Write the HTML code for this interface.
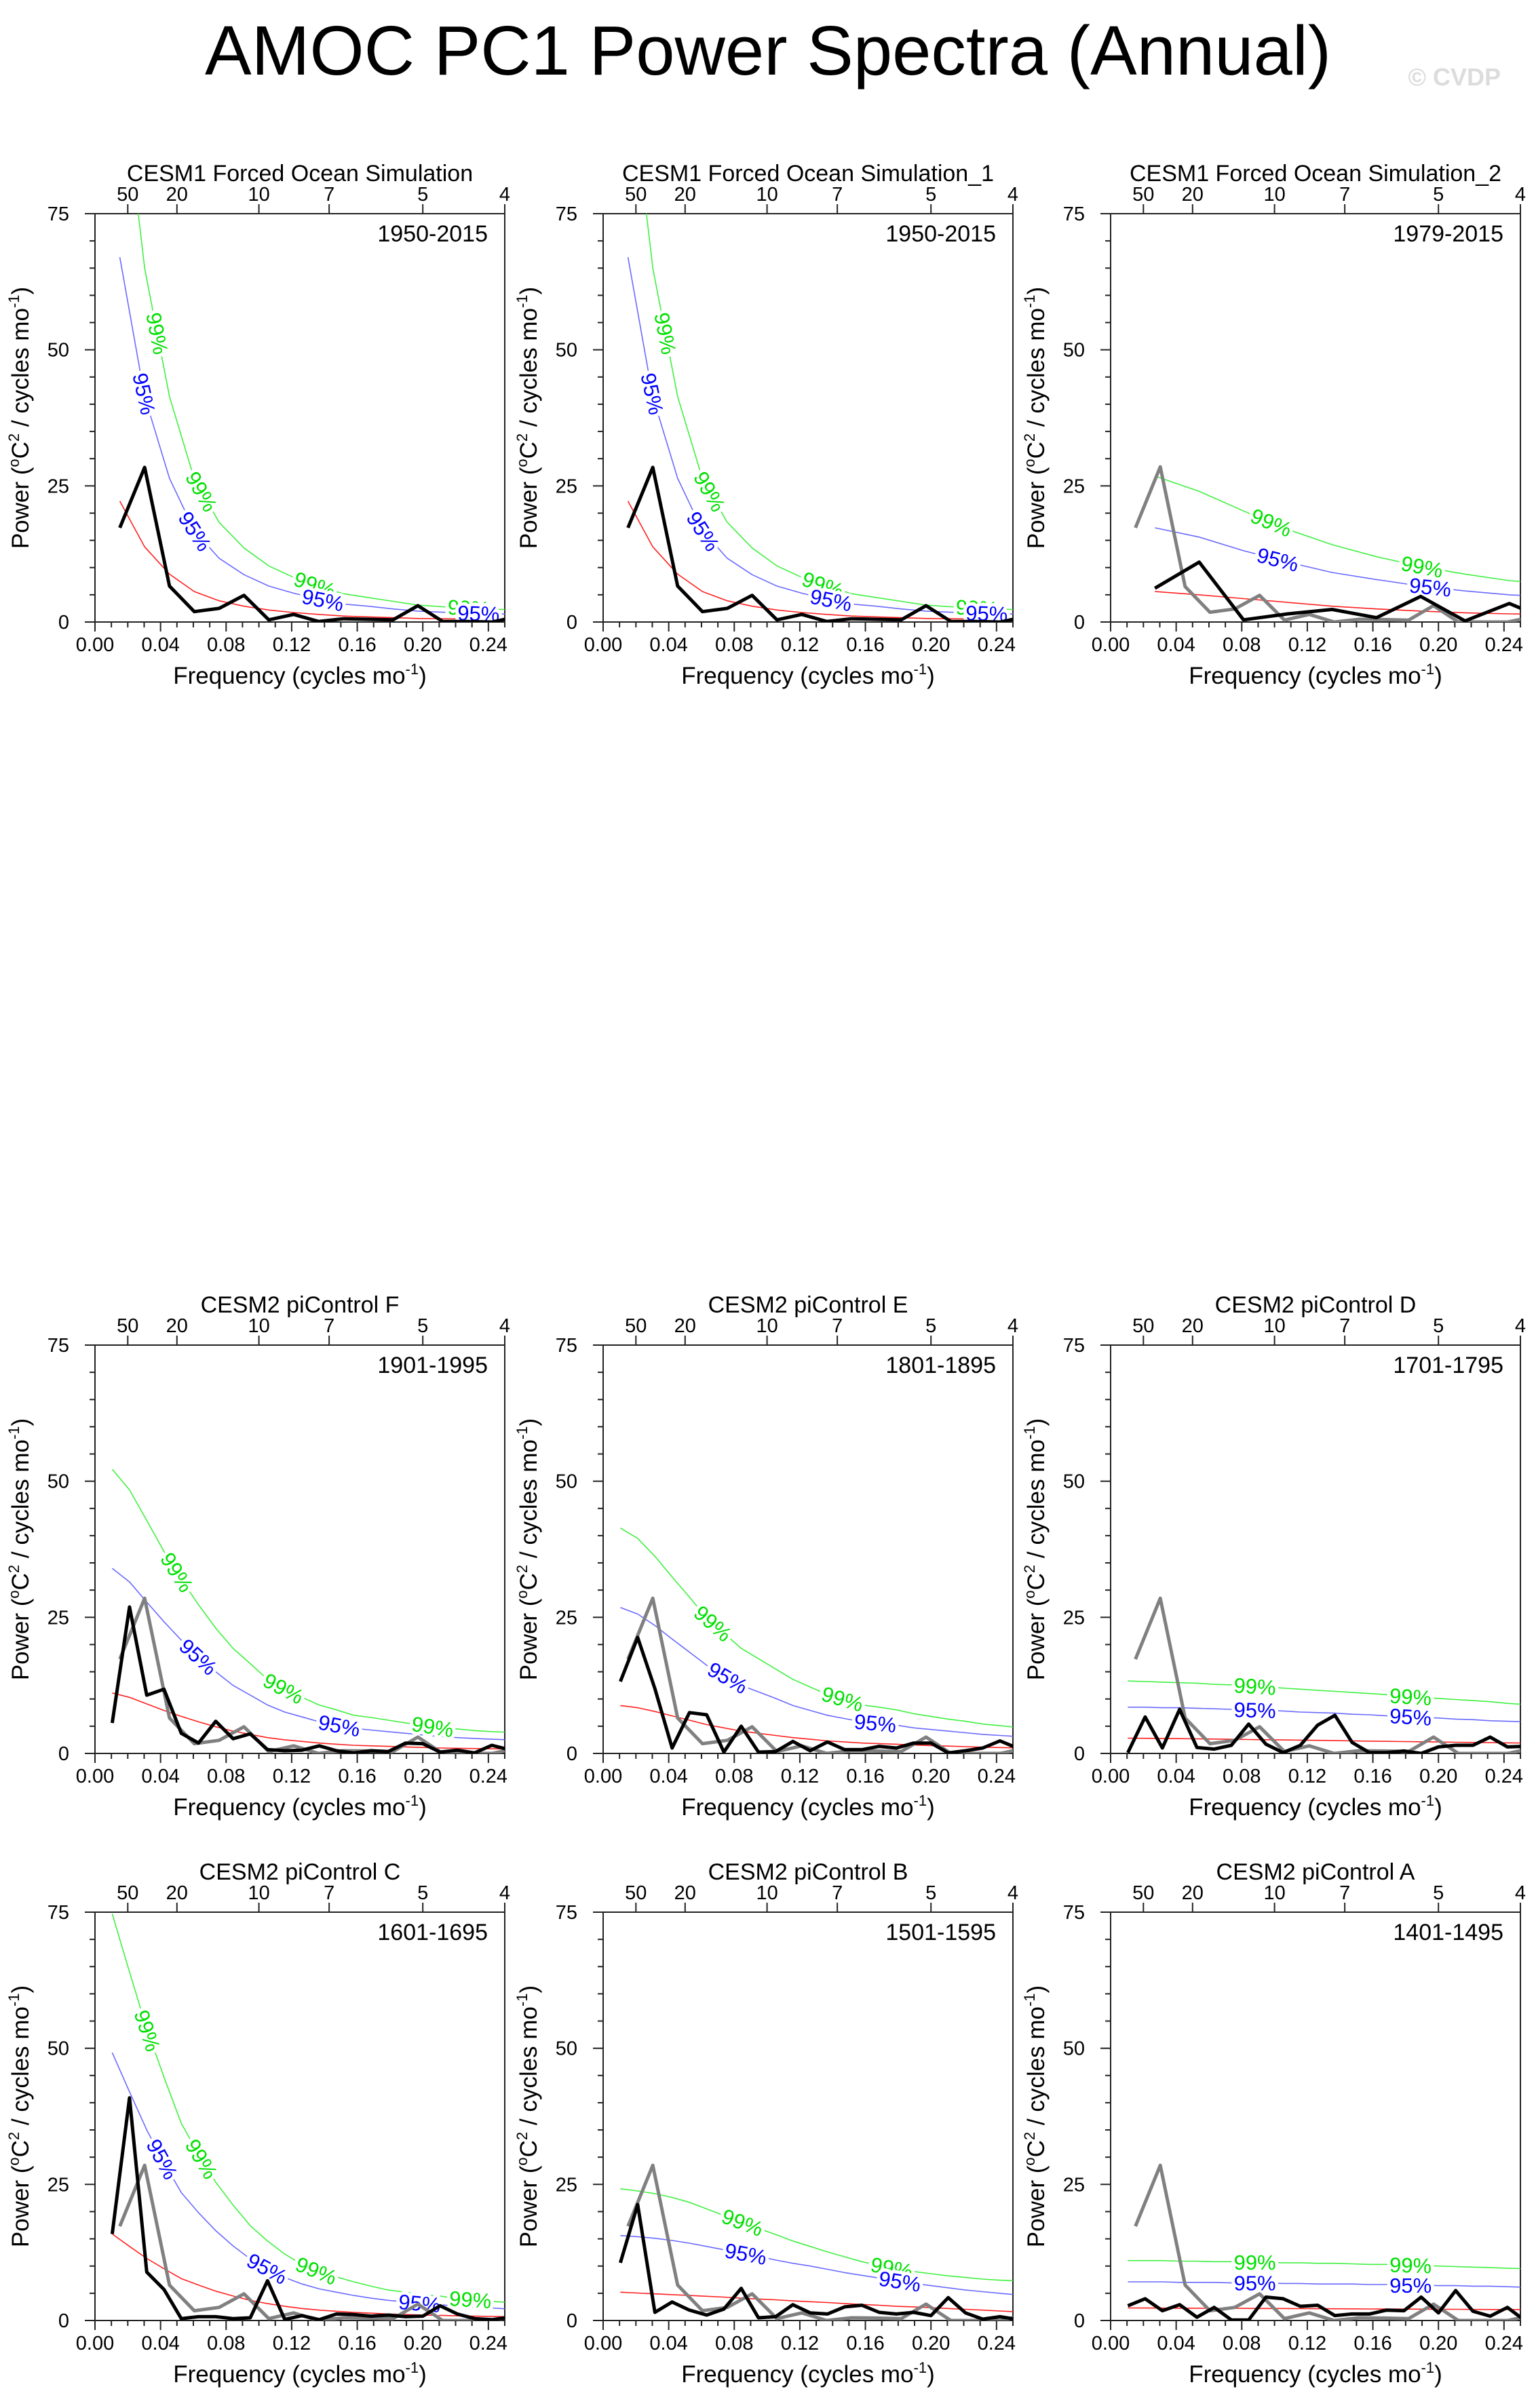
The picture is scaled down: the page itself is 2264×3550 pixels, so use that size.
<!DOCTYPE html>
<html><head><meta charset="utf-8"><title>AMOC PC1 Power Spectra (Annual)</title>
<style>
html,body{margin:0;padding:0;background:#fff;}
svg{display:block;font-family:"Liberation Sans",Arial,sans-serif;}
</style></head>
<body>
<svg id="chart" xmlns="http://www.w3.org/2000/svg" width="2264" height="3550" viewBox="0 0 2264 3550">
<rect width="2264" height="3550" fill="#fff"/>
<text x="1132" y="110" font-size="103" text-anchor="middle" fill="#000">AMOC PC1 Power Spectra (Annual)</text>
<text x="2212" y="126" font-size="36" font-weight="bold" text-anchor="end" fill="#dcdcdc">© CVDP</text>
<g id="panels"></g>
</svg>
<script>
// ---- data ----
const grayStep = 1/66;
const grayRef = [17.3,28.5,6.5,1.8,2.4,4.9,0.35,1.4,0,0.5,0.45,0.35,3.0,0,0,0,1.0];

const p1Black = [17.3,28.4,6.6,1.9,2.5,4.9,0.4,1.4,0.1,0.6,0.5,0.4,3.0,0.1,0.1,0,1.0];
const p1Red   = [22.2,13.8,8.8,5.6,3.9,2.9,2.2,1.75,1.4,1.1,0.95,0.8,0.65,0.6,0.55,0.5,0.48];
const p1S95   = [67,41.4,26.4,16.8,11.7,8.7,6.6,5.3,4.2,3.3,2.9,2.4,2.0,1.8,1.65,1.5,1.45];
const p1S99   = [104,65,41.4,26.3,18.3,13.6,10.3,8.2,6.6,5.2,4.5,3.8,3.1,2.8,2.6,2.35,2.25];

const p3Black = [6.2,11,0.4,1.5,2.3,0.8,4.7,0.2,3.4,0];
const p3Red   = [5.6,5.0,4.3,3.6,2.9,2.4,2.0,1.7,1.5,1.4];
const p3S95   = [17.3,15.6,13.1,11,9.1,7.8,6.6,5.7,5.0,4.6];
const p3S99   = [26.8,24,20.4,17,14.2,12,10.2,8.8,7.6,7.0];

const pFBlack = [5.6,26.9,10.7,11.8,3.7,1.9,5.9,2.7,3.6,0.7,0.5,0.6,1.4,0.5,0.1,0.5,0.35,1.9,1.8,0.25,0.6,0.1,1.5,0.7];
const pFRed   = [11.1,10.3,9.1,7.9,6.8,5.8,4.9,4.1,3.5,2.9,2.5,2.2,1.9,1.7,1.5,1.4,1.3,1.2,1.1,1.0,0.95,0.9,0.85,0.82];
const pFS95   = [34,31.5,27.8,24.2,20.8,17.7,15,12.5,10.7,8.9,7.6,6.7,5.8,5.2,4.6,4.3,4.0,3.7,3.4,3.1,2.9,2.75,2.6,2.5];
const pFS99   = [52.2,48.4,42.8,37.1,32,27.3,23,19.3,16.5,13.6,11.8,10.3,8.9,8,7,6.6,6.1,5.6,5.2,4.7,4.5,4.2,4.0,3.9];

const pEBlack = [13.2,21.3,11.9,1.0,7.5,7.1,0.25,5.0,0.25,0.35,2.2,0.5,2.1,0.7,0.7,1.3,1.0,1.9,1.9,0.1,0.5,1.0,2.3,1.0];
const pERed   = [8.8,8.4,7.7,6.9,6.1,5.3,4.7,4.1,3.7,3.3,2.9,2.6,2.3,2.1,1.9,1.8,1.7,1.55,1.45,1.35,1.25,1.15,1.08,1.02];
const pES95   = [26.8,25.6,23.5,21,18.6,16.2,14.3,12.5,11.3,10.1,8.8,7.9,7.0,6.4,5.8,5.5,5.2,4.7,4.4,4.1,3.8,3.5,3.3,3.1];
const pES99   = [41.4,39.5,36.2,32.4,28.7,24.9,22.1,19.3,17.4,15.5,13.6,12.2,10.8,9.9,8.9,8.5,8.0,7.3,6.8,6.3,5.9,5.4,5.1,4.8];

const pDBlack = [0.15,6.7,1.0,8.1,1.1,0.8,1.5,5.4,1.7,0.15,1.5,5.2,7.0,2.0,0.15,0.15,0.45,0,1.2,1.5,1.5,3.0,1.2,1.3];
const pDRed   = [2.8,2.78,2.75,2.72,2.68,2.64,2.6,2.56,2.52,2.48,2.44,2.4,2.35,2.3,2.26,2.22,2.18,2.14,2.1,2.06,2.02,1.98,1.94,1.9];
const pDS95   = [8.5,8.5,8.4,8.4,8.3,8.2,8.1,8.0,7.9,7.8,7.6,7.5,7.4,7.2,7.1,6.9,6.8,6.6,6.5,6.3,6.2,6.0,5.9,5.8];
const pDS99   = [13.3,13.2,13.1,13.0,12.9,12.7,12.6,12.4,12.2,12.0,11.8,11.6,11.4,11.2,11.0,10.8,10.5,10.3,10.1,9.9,9.7,9.5,9.2,9.0];

const pCBlack = [15.9,40.9,8.9,5.7,0.35,0.7,0.7,0.35,0.5,7.3,0.2,0.9,0.15,1.2,1.1,0.8,1.0,0.7,0.8,2.7,1.2,0.35,0.15,0.6];
const pCRed   = [15.9,13.6,11.4,9.5,7.7,6.5,5.4,4.5,3.7,3.1,2.6,2.2,1.9,1.7,1.5,1.35,1.2,1.1,1.0,0.95,0.85,0.8,0.75,0.7];
const pCS95   = [49.2,42,35,29,23.5,19.8,16.5,13.7,11.3,9.5,7.9,6.7,5.8,5.2,4.6,4.1,3.7,3.4,3.1,2.9,2.6,2.4,2.3,2.1];
const pCS99   = [74.7,64,53.6,44.7,36.2,30.6,25.4,21.2,17.4,14.6,12.2,10.3,8.9,8.0,7.1,6.3,5.6,5.2,4.7,4.5,4.0,3.8,3.5,3.3];

const pBBlack = [10.6,21.3,1.5,3.4,1.9,1.0,2.1,5.9,0.5,0.7,2.9,1.4,1.2,2.5,2.8,1.5,1.2,1.5,0.9,4.2,1.4,0.25,0.7,0.2];
const pBRed   = [5.2,5.05,4.9,4.75,4.6,4.45,4.3,4.1,3.95,3.8,3.6,3.45,3.3,3.1,2.95,2.8,2.6,2.5,2.35,2.2,2.05,1.9,1.75,1.6];
const pBS95   = [15.6,15.4,15.1,14.7,14.2,13.6,13.0,12.4,11.8,11.1,10.5,10.0,9.4,8.8,8.3,7.8,7.3,6.8,6.4,6.0,5.6,5.3,5.0,4.7];
const pBS99   = [24.2,23.8,23.3,22.6,21.7,20.5,19.3,18.1,16.9,15.8,14.6,13.6,12.6,11.7,10.8,10.1,9.5,9.0,8.6,8.2,7.9,7.6,7.4,7.3];

const pABlack = [2.7,4.0,1.8,2.9,0.6,2.4,0.1,0.1,4.3,4.0,2.6,2.8,0.9,1.2,1.2,1.9,1.8,4.3,1.4,5.5,1.7,0.8,2.4,0];
const pARed   = [2.3,2.29,2.28,2.27,2.26,2.25,2.24,2.22,2.21,2.2,2.18,2.17,2.15,2.14,2.12,2.11,2.09,2.08,2.06,2.05,2.03,2.02,2.01,2.0];
const pAS95   = [7.1,7.1,7.1,7.0,7.0,7.0,6.9,6.9,6.9,6.8,6.8,6.7,6.7,6.7,6.6,6.6,6.5,6.5,6.4,6.4,6.3,6.3,6.2,6.1];
const pAS99   = [11.0,11.0,11.0,10.9,10.9,10.8,10.8,10.7,10.7,10.6,10.6,10.5,10.5,10.4,10.3,10.3,10.2,10.1,10.0,9.9,9.8,9.7,9.6,9.5];

const xMajorTicks = [0,0.04,0.08,0.12,0.16,0.20,0.24];
const xTickLabels = ["0.00","0.04","0.08","0.12","0.16","0.20","0.24"];
const yMajorTicks = [0,25,50,75];
const periodTicks = [50,20,10,7,5,4];

const panelDefs = [
 {id:"p1",title:"CESM1 Forced Ocean Simulation",period:"1950-2015",col:0,row:0,step:1/66,black:p1Black,red:p1Red,s95:p1S95,s99:p1S99,gray:false,l99:[0.038,0.065,0.134,0.228],l95:[0.030,0.061,0.139,0.234]},
 {id:"p2",title:"CESM1 Forced Ocean Simulation_1",period:"1950-2015",col:1,row:0,step:1/66,black:p1Black,red:p1Red,s95:p1S95,s99:p1S99,gray:false,l99:[0.038,0.065,0.134,0.228],l95:[0.030,0.061,0.139,0.234]},
 {id:"p3",title:"CESM1 Forced Ocean Simulation_2",period:"1979-2015",col:2,row:0,step:1/37,black:p3Black,red:p3Red,s95:p3S95,s99:p3S99,gray:true,l99:[0.098,0.19],l95:[0.102,0.195]},
 {id:"pF",title:"CESM2 piControl F",period:"1901-1995",col:0,row:1,step:1/95,black:pFBlack,red:pFRed,s95:pFS95,s99:pFS99,gray:true,l99:[0.050,0.115,0.206],l95:[0.063,0.149]},
 {id:"pE",title:"CESM2 piControl E",period:"1801-1895",col:1,row:1,step:1/95,black:pEBlack,red:pERed,s95:pES95,s99:pES99,gray:true,l99:[0.067,0.146],l95:[0.076,0.166]},
 {id:"pD",title:"CESM2 piControl D",period:"1701-1795",col:2,row:1,step:1/95,black:pDBlack,red:pDRed,s95:pDS95,s99:pDS99,gray:true,l99:[0.088,0.183],l95:[0.088,0.183]},
 {id:"pC",title:"CESM2 piControl C",period:"1601-1695",col:0,row:2,step:1/95,black:pCBlack,red:pCRed,s95:pCS95,s99:pCS99,gray:true,l99:[0.032,0.065,0.135,0.229],l95:[0.041,0.105,0.198]},
 {id:"pB",title:"CESM2 piControl B",period:"1501-1595",col:1,row:2,step:1/95,black:pBBlack,red:pBRed,s95:pBS95,s99:pBS99,gray:true,l99:[0.085,0.176],l95:[0.087,0.181]},
 {id:"pA",title:"CESM2 piControl A",period:"1401-1495",col:2,row:2,step:1/95,black:pABlack,red:pARed,s95:pAS95,s99:pAS99,gray:true,l99:[0.088,0.183],l95:[0.088,0.183]}
];

// ---- layout ----
const NS = "http://www.w3.org/2000/svg";
const colLeft = [140, 889, 1637];
const rowTop = [315, 1983, 2819];
const W = 604, H = 602, XMAX = 0.25, YMAX = 75;
const root = document.getElementById("panels");

function mk(tag, attrs, parent, text){
  const e = document.createElementNS(NS, tag);
  for (const k in attrs) e.setAttribute(k, attrs[k]);
  if (text !== undefined) e.textContent = text;
  parent.appendChild(e);
  return e;
}

function interp(arr, step, f){
  const k = f/step - 1;
  const i = Math.max(0, Math.min(arr.length-2, Math.floor(k)));
  const t = k - i;
  return arr[i] + (arr[i+1]-arr[i]) * t;
}

panelDefs.forEach(function(d){
  const L = colLeft[d.col], T = rowTop[d.row], B = T + H, R = L + W;
  const xs = f => L + f / XMAX * W;
  const ys = v => B - v / YMAX * H;

  const g = mk("g", {}, root);
  
  

  const cp = mk("clipPath", {id: "clip-" + d.id}, g);
  mk("rect", {x: L, y: T, width: W, height: H}, cp);

  const tt = mk("text", {x: (L+R)/2, y: T-48, "font-size": 34, "text-anchor": "middle"}, g, d.title);
  
  
  const pl = mk("text", {x: R-25, y: T+41, "font-size": 34, "text-anchor": "end"}, g, d.period);
  
  

  const fr = mk("rect", {x: L, y: T, width: W, height: H, fill: "none", stroke: "#222", "stroke-width": 2}, g);
  
  

  const ax = mk("g", {stroke: "#222", "stroke-width": 2}, g);
  
  
  for (let i = 0; i <= 25; i++){
    const f = i * 0.01, x = xs(f), major = (i % 4 === 0);
    mk("line", {x1: x, y1: B, x2: x, y2: B + (major ? 14 : 8)}, ax);
  }
  xMajorTicks.forEach(function(f, i){
    const t = mk("text", {x: xs(f), y: B+43, "font-size": 29, "text-anchor": "middle", stroke: "none", fill: "#000"}, g, xTickLabels[i]);
    
    
  });
  for (let v = 0; v <= 75; v += 5){
    const y = ys(v), major = (v % 25 === 0);
    mk("line", {x1: L - (major ? 15 : 8), y1: y, x2: L, y2: y}, ax);
  }
  yMajorTicks.forEach(function(v){
    const t = mk("text", {x: L-38, y: ys(v)+10, "font-size": 29, "text-anchor": "end"}, g, String(v));
    
    
  });
  periodTicks.forEach(function(p){
    const x = xs(1/p);
    mk("line", {x1: x, y1: T, x2: x, y2: T-14}, ax);
    const t = mk("text", {x: x, y: T-19, "font-size": 29, "text-anchor": "middle"}, g, String(p));
    
    
  });

  const xt = mk("text", {x: (L+R)/2, y: B+91, "font-size": 35, "text-anchor": "middle"}, g);
  
  
  mk("tspan", {}, xt, "Frequency (cycles mo");
  mk("tspan", {dy: -14, "font-size": 22}, xt, "-1");
  mk("tspan", {dy: 14}, xt, ")");
  const yx = L - 98, yy = (T+B)/2;
  const yt = mk("text", {x: yx, y: yy, "font-size": 35, "text-anchor": "middle", transform: "rotate(-90 " + yx + " " + yy + ")"}, g);
  
  
  mk("tspan", {}, yt, "Power (");
  mk("tspan", {dy: -14, "font-size": 22}, yt, "o");
  mk("tspan", {dy: 14}, yt, "C");
  mk("tspan", {dy: -14, "font-size": 22}, yt, "2");
  mk("tspan", {dy: 14}, yt, " / cycles mo");
  mk("tspan", {dy: -14, "font-size": 22}, yt, "-1");
  mk("tspan", {dy: 14}, yt, ")");

  const plot = mk("g", {"clip-path": "url(#clip-" + d.id + ")"}, g);
  function line(arr, step, color, width, name){
    const pts = arr.map((v, i) => xs((i+1)*step).toFixed(1) + "," + ys(v).toFixed(1)).join(" ");
    const p = mk("polyline", {points: pts, fill: "none", stroke: color, "stroke-width": width, "stroke-linejoin": "round"}, plot);
    
    
    return p;
  }
  line(d.red, d.step, "#ff2020", 1.6, "red-noise-curve");
  line(d.s95, d.step, "#6a6aff", 1.6, "sig95-curve");
  line(d.s99, d.step, "#40f040", 1.6, "sig99-curve");

  function label(arr, color, f, txt, name){
    const x = xs(f), y = ys(interp(arr, d.step, f));
    const dx = xs(f + 0.004) - xs(f - 0.004);
    const dy = ys(interp(arr, d.step, f + 0.004)) - ys(interp(arr, d.step, f - 0.004));
    const ang = Math.atan2(dy, dx) * 180 / Math.PI;
    const t = mk("text", {x: x, y: y + 11, "font-size": 31, "text-anchor": "middle", fill: color,
      stroke: "#fff", "stroke-width": 10, "paint-order": "stroke", "stroke-linejoin": "round",
      transform: "rotate(" + ang.toFixed(1) + " " + x.toFixed(1) + " " + y.toFixed(1) + ")"}, plot, txt);
    
    
  }
  d.l99.forEach(f => label(d.s99, "#00e000", f, "99%", "sig99-label"));
  d.l95.forEach(f => label(d.s95, "#0000ff", f, "95%", "sig95-label"));

  if (d.gray) line(grayRef, grayStep, "#808080", 5, "observed-reference-spectrum");
  line(d.black, d.step, "#000", 5, "model-spectrum");
});
</script>
</body></html>
